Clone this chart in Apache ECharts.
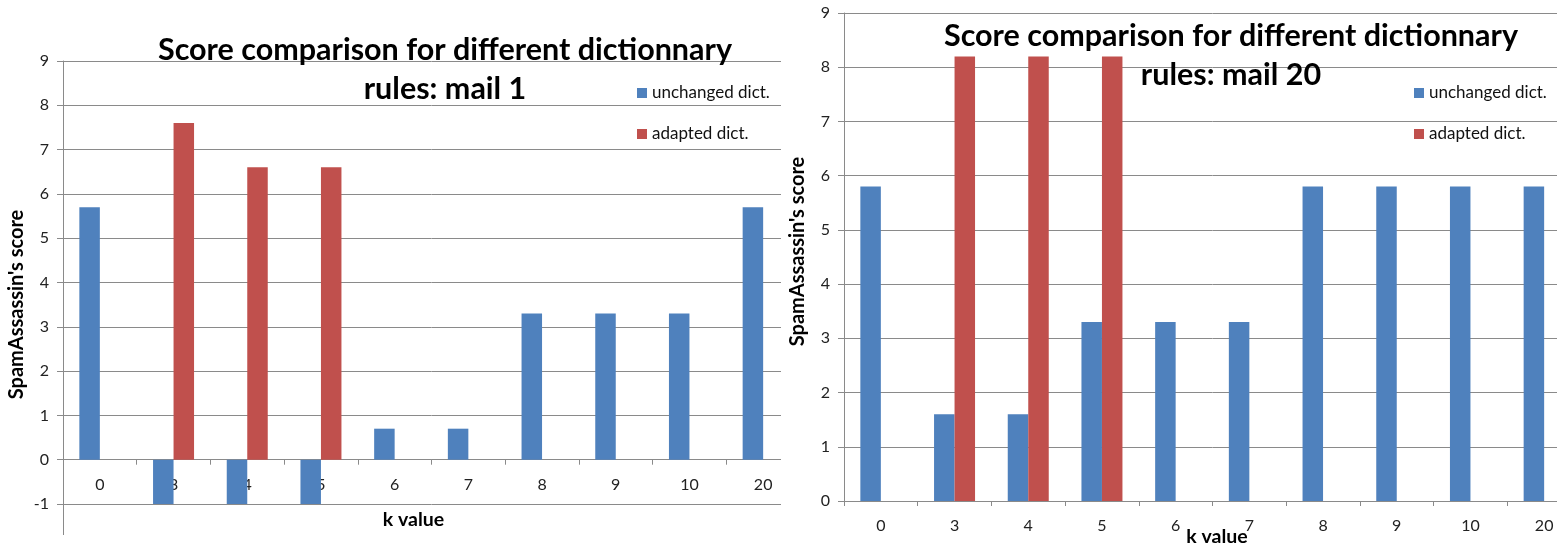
<!DOCTYPE html>
<html>
<head>
<meta charset="utf-8">
<script src="https://cdn.jsdelivr.net/npm/echarts@6/dist/echarts.min.js"></script>
<style>
  html, body { margin: 0; padding: 0; background: #fff; width: 1557px; height: 547px; overflow: hidden; }
  .panel { position: absolute; top: 0; height: 547px; overflow: hidden; background: #fff; }
  #p1 { left: 0; width: 781px; }
  #p2 { left: 781px; width: 776px; }
  .chart { position: absolute; left: 0; top: 0; width: 820px; height: 547px; }
</style>
</head>
<body>
<div id="p1" class="panel"><div id="c1" class="chart"></div></div>
<div id="p2" class="panel"><div id="c2" class="chart"></div></div>
<script>
// k values tested
const categories = ['0', '3', '4', '5', '6', '7', '8', '9', '10', '20'];

// mail 1 scores
const mail1Unchanged = [5.7, -1, -1, -1, 0.7, 0.7, 3.3, 3.3, 3.3, 5.7];
const mail1Adapted   = [0, 7.6, 6.6, 6.6, 0, 0, 0, 0, 0, 0];

// mail 20 scores
const mail20Unchanged = [5.8, 1.6, 1.6, 3.3, 3.3, 3.3, 5.8, 5.8, 5.8, 5.8];
const mail20Adapted   = [0, 8.2, 8.2, 8.2, 0, 0, 0, 0, 0, 0];

const seriesNames = ['unchanged dict.', 'adapted dict.'];
const FONT = 'Lato, "Open Sans", sans-serif';
const BLUE = '#4F81BD';
const RED = '#C0504D';
const GRID_GRAY = '#8a8a8a';

function buildOption(cfg) {
  return {
    animation: false,
    backgroundColor: '#ffffff',
    textStyle: { fontFamily: FONT },
    title: {
      text: 'Score comparison for different dictionnary\nrules: ' + cfg.mail,
      left: cfg.titleX,
      top: cfg.titleTop,
      padding: 0,
      textAlign: 'center',
      textStyle: { fontFamily: FONT, fontWeight: 'bold', fontSize: 30.5, lineHeight: 39, color: '#000' }
    },
    legend: {
      orient: 'vertical',
      left: cfg.legendX,
      top: cfg.legendTop,
      padding: 0,
      icon: 'rect',
      itemWidth: 10,
      itemHeight: 10,
      itemGap: 23,
      textStyle: { fontFamily: FONT, fontSize: 17, color: '#111', lineHeight: 18 },
      data: seriesNames
    },
    grid: { left: 63, right: 20, top: cfg.gridTop, bottom: cfg.gridBottom, outerBoundsMode: 'none', containLabel: false },
    xAxis: {
      type: 'category',
      data: categories,
      name: 'k value',
      nameLocation: 'middle',
      nameGap: cfg.xNameGap,
      nameMoveOverlap: false,
      nameTextStyle: { fontFamily: FONT, fontWeight: 'bold', fontSize: 19.5, color: '#000', padding: cfg.xNamePad },
      axisLine: { onZero: false, lineStyle: { color: GRID_GRAY, width: 1 } },
      axisTick: { show: true, length: 5, lineStyle: { color: GRID_GRAY } },
      axisLabel: { fontFamily: FONT, fontSize: 16, color: '#222', margin: 17 },
      splitLine: { show: false }
    },
    yAxis: {
      type: 'value',
      min: cfg.yMin,
      max: 9,
      interval: 1,
      name: "SpamAssassin's score",
      nameLocation: 'middle',
      nameRotate: 90,
      nameGap: 36,
      nameMoveOverlap: false,
      nameTextStyle: { fontFamily: FONT, fontWeight: 'bold', fontSize: 20, color: '#000', padding: cfg.yNamePad },
      axisLine: { show: true, lineStyle: { color: GRID_GRAY, width: 1 } },
      axisTick: { show: true, length: 6, lineStyle: { color: GRID_GRAY } },
      axisLabel: { fontFamily: FONT, fontSize: 16, color: '#222', margin: 14 },
      splitLine: { show: true, lineStyle: { color: GRID_GRAY, width: 1 } }
    },
    series: [
      { name: seriesNames[0], type: 'bar', data: cfg.unchanged, barWidth: 20.5, barGap: '0%',
        itemStyle: { color: BLUE } },
      { name: seriesNames[1], type: 'bar', data: cfg.adapted, barWidth: 20.5, barGap: '0%',
        itemStyle: { color: RED } }
    ]
  };
}

const chart1 = echarts.init(document.getElementById('c1'), null, { renderer: 'canvas' });
chart1.setOption(buildOption({
  mail: 'mail 1', titleX: 445, titleTop: 31,
  legendX: 637, legendTop: 84,
  gridTop: 61, gridBottom: 43, yMin: -1,
  xNameGap: 50, xNamePad: [0, 36, 0, 0], yNamePad: [0, 44, 0, 0],
  unchanged: mail1Unchanged, adapted: mail1Adapted
}));

// move the category axis up to the zero line, and let the value axis line
// run on past the lowest gridline
const yLow = chart1.convertToPixel({ yAxisIndex: 0 }, -1);
const yZero = chart1.convertToPixel({ yAxisIndex: 0 }, 0);
chart1.setOption({
  xAxis: { offset: yZero - yLow },
  graphic: [{
    type: 'line', silent: true,
    shape: { x1: 63.5, y1: yLow, x2: 63.5, y2: yLow + 31 },
    style: { stroke: GRID_GRAY, lineWidth: 1 }
  }]
});

const chart2 = echarts.init(document.getElementById('c2'), null, { renderer: 'canvas' });
chart2.setOption(buildOption({
  mail: 'mail 20', titleX: 450, titleTop: 17,
  legendX: 633, legendTop: 84,
  gridTop: 13, gridBottom: 46, yMin: 0,
  xNameGap: 26, xNamePad: [0, 0, 0, 9], yNamePad: [0, 0, 0, 11],
  unchanged: mail20Unchanged, adapted: mail20Adapted
}));
</script>
</body>
</html>
